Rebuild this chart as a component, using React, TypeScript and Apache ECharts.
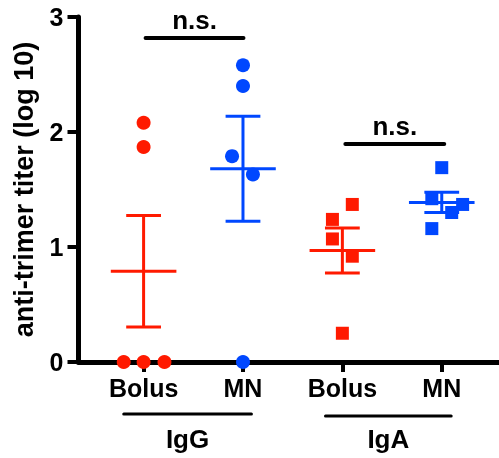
import React, { useEffect, useRef } from "react";
import * as echarts from "echarts";

const categories = ["Bolus", "MN", "Bolus", "MN"];
const groupNames = ["IgG", "IgA"];
const groupSpans = [
  [-0.2, 1.085],
  [1.83, 3.095],
];

const igGBolus = [2.08, 1.87, 0, 0, 0];
const igGBolusJitter = [0, 0, -0.2, 0, 0.21];
const igGMN = [2.58, 2.4, 1.79, 1.63, 0];
const igGMNJitter = [0, 0, -0.11, 0.1, 0];
const igABolus = [1.37, 1.24, 1.07, 0.92, 0.25];
const igABolusJitter = [0.1, -0.1, -0.1, 0.1, 0];
const igAMN = [1.69, 1.42, 1.37, 1.3, 1.16];
const igAMNJitter = [0, -0.1, 0.21, 0.1, -0.1];

const brackets = [
  [0.02, 1.005, 2.817],
  [2.03, 3.025, 1.896],
];
const bracketLabel = "n.s.";
const yTitle = "anti-trimer titer (log 10)";

const RED = "#FF1A00";
const BLUE = "#0047FF";
const FONT = '"Liberation Sans", Arial, Helvetica, sans-serif';

function meanSem(v: number[]) {
  const n = v.length;
  const m = v.reduce((a, b) => a + b, 0) / n;
  const sd = Math.sqrt(v.reduce((a, b) => a + (b - m) * (b - m), 0) / (n - 1));
  return [m, m - sd / Math.sqrt(n), m + sd / Math.sqrt(n)];
}

export default function App() {
  const ref = useRef<HTMLDivElement>(null);
  useEffect(() => {
    if (!ref.current) return;
    const chart = echarts.init(ref.current, null, { renderer: "svg" });
    const groups = [
      { vals: igGBolus, jit: igGBolusJitter, color: RED, symbol: "circle", size: 14 },
      { vals: igGMN, jit: igGMNJitter, color: BLUE, symbol: "circle", size: 14 },
      { vals: igABolus, jit: igABolusJitter, color: RED, symbol: "rect", size: 13 },
      { vals: igAMN, jit: igAMNJitter, color: BLUE, symbol: "rect", size: 13 },
    ];
    const scatterSeries = groups.map((g, i) => ({
      type: "scatter",
      name: categories[i] + i,
      symbol: g.symbol,
      symbolSize: g.size,
      clip: false,
      z: 5,
      itemStyle: { color: g.color, opacity: 1 },
      data: g.vals.map((v, k) => [i + g.jit[k], v]),
    }));
    const statData = groups.map((g, i) => {
      const [m, lo, hi] = meanSem(g.vals);
      return [i, m, lo, hi];
    });
    const errSeries = {
      type: "custom",
      clip: false,
      z: 4,
      data: statData,
      renderItem: (params: any, api: any) => {
        const i = api.value(0);
        const color = groups[i].color;
        const pm = api.coord([i, api.value(1)]);
        const pl = api.coord([i, api.value(2)]);
        const ph = api.coord([i, api.value(3)]);
        const unit = api.size([1, 0])[0];
        const mw = 0.33 * unit;
        const cw = 0.175 * unit;
        const st = { stroke: color, lineWidth: 3 };
        return {
          type: "group",
          children: [
            { type: "line", shape: { x1: pl[0], y1: pl[1], x2: ph[0], y2: ph[1] }, style: st },
            { type: "line", shape: { x1: pl[0] - cw, y1: pl[1], x2: pl[0] + cw, y2: pl[1] }, style: st },
            { type: "line", shape: { x1: ph[0] - cw, y1: ph[1], x2: ph[0] + cw, y2: ph[1] }, style: st },
            { type: "line", shape: { x1: pm[0] - mw, y1: pm[1], x2: pm[0] + mw, y2: pm[1] }, style: st },
          ],
        };
      },
    };
    const bracketSeries = {
      type: "custom",
      clip: false,
      z: 6,
      data: brackets,
      renderItem: (params: any, api: any) => {
        const p1 = api.coord([api.value(0), api.value(2)]);
        const p2 = api.coord([api.value(1), api.value(2)]);
        return {
          type: "group",
          children: [
            {
              type: "line",
              shape: { x1: p1[0], y1: p1[1], x2: p2[0], y2: p2[1] },
              style: { stroke: "#000", lineWidth: 4, lineCap: "round" },
            },
            {
              type: "text",
              style: {
                text: bracketLabel,
                x: (p1[0] + p2[0]) / 2,
                y: p1[1] - 18,
                align: "center",
                verticalAlign: "middle",
                fontSize: 26,
                fontWeight: "bold",
                fontFamily: FONT,
                fill: "#000",
              },
            },
          ],
        };
      },
    };
    const groupSeries = {
      type: "custom",
      clip: false,
      z: 6,
      data: groupSpans.map((s, i) => [s[0], s[1], i]),
      renderItem: (params: any, api: any) => {
        const p1 = api.coord([api.value(0), 0]);
        const p2 = api.coord([api.value(1), 0]);
        const idx = api.value(2);
        const ly = p1[1] + 52 + idx * 2;
        return {
          type: "group",
          children: [
            {
              type: "line",
              shape: { x1: p1[0], y1: ly, x2: p2[0], y2: ly },
              style: { stroke: "#000", lineWidth: 3, lineCap: "round" },
            },
            {
              type: "text",
              style: {
                text: groupNames[idx],
                x: (p1[0] + p2[0]) / 2,
                y: p1[1] + 77,
                align: "center",
                verticalAlign: "middle",
                fontSize: 26,
                fontWeight: "bold",
                fontFamily: FONT,
                fill: "#000",
              },
            },
          ],
        };
      },
    };
    chart.setOption({
      animation: false,
      grid: { left: 78.5, top: 17, width: 421, height: 345, containLabel: false },
      xAxis: {
        type: "value",
        min: -0.655,
        max: 3.576,
        splitLine: { show: false },
        axisLine: { show: true, onZero: false, lineStyle: { color: "#000", width: 5 } },
        axisTick: {
          show: true,
          customValues: [0, 1, 2, 3],
          length: 10,
          lineStyle: { color: "#000", width: 4 },
        },
        axisLabel: {
          show: true,
          customValues: [0, 1, 2, 3],
          formatter: (v: number) => categories[Math.round(v)],
          margin: 13,
          fontSize: 25,
          fontWeight: "bold",
          fontFamily: FONT,
          color: "#000",
        },
      },
      yAxis: {
        type: "value",
        min: 0,
        max: 3,
        interval: 1,
        splitLine: { show: false },
        axisLine: { show: true, onZero: false, lineStyle: { color: "#000", width: 5 } },
        axisTick: { show: true, length: 11, lineStyle: { color: "#000", width: 4 } },
        axisLabel: {
          margin: 15,
          fontSize: 25,
          fontWeight: "bold",
          fontFamily: FONT,
          color: "#000",
          formatter: (v: number) => String(v),
        },
        name: yTitle,
        nameLocation: "middle",
        nameGap: 41,
        nameRotate: 90,
        nameTextStyle: { fontSize: 27, fontWeight: "bold", fontFamily: FONT, color: "#000" },
      },
      series: [errSeries, ...scatterSeries, bracketSeries, groupSeries],
    });
    return () => chart.dispose();
  }, []);
  return <div ref={ref} style={{ position: "fixed", left: 0, top: 0, width: 499, height: 458 }} />;
}
